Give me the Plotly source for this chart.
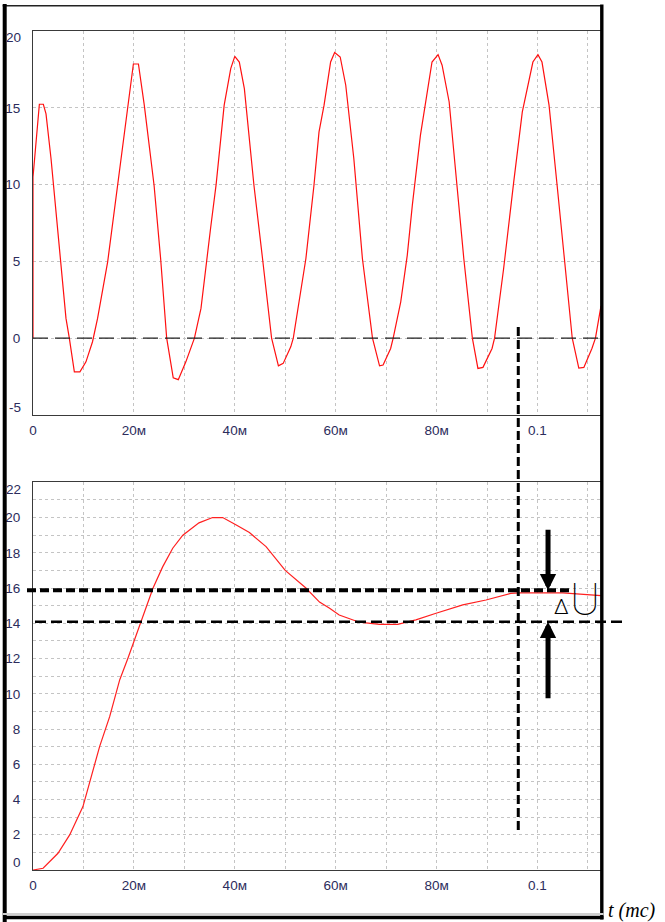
import numpy as np
import plotly.graph_objects as go

# ---------------- data (time in ms) ----------------
top_t_ms = [0, 0, 0.27, 1.26, 2.05, 2.58, 3.57, 4.56, 5.55, 6.54, 7.2, 8.2, 9.3, 10.5, 11.8, 12.8,
            14.8, 16.8, 18.75, 19.9, 20.9, 22.06, 24.0, 25.3, 26.5, 27.8, 28.8, 30.3, 32.0, 33.3,
            35.2, 36.3, 37.9, 39.2, 40.0, 40.9, 41.9, 43.8, 45.5, 47.3, 48.65, 49.6, 51.1, 51.6,
            54.1, 55.7, 56.7, 57.7, 59.0, 59.8, 60.9, 62.0, 63.6, 65.3, 67.3, 68.7, 69.4, 70.9,
            71.4, 72.9, 74.2, 75.2, 76.8, 79.1, 80.3, 81.1, 82.5, 84.1, 85.4, 87.1, 88.2, 89.2,
            91.0, 91.5, 93.3, 95.3, 97.0, 99.1, 100.1, 100.9, 102.3, 103.9, 105.3, 106.9, 108.2,
            109.2, 110.8, 111.5, 112.6]
top_v = [0, 10.5, 11.5, 15.23, 15.23, 14.6, 11.7, 8.22, 4.97, 1.29, 0, -2.19, -2.19, -1.54, -0.23, 1.29,
         4.97, 9.96, 15.17, 17.85, 17.85, 15.17, 9.96, 5.19, 0, -2.58, -2.7, -1.54, 0, 1.94,
         7.14, 10.0, 15.17, 17.55, 18.35, 17.98, 16.25, 9.96, 5.19, 0, -1.8, -1.64, -0.56, 0,
         5.19, 9.96, 13.43, 15.17, 17.98, 18.6, 18.31, 16.47, 11.7, 5.19, 0, -1.8, -1.75, -0.67,
         0, 2.37, 5.41, 8.66, 13.2, 17.98, 18.46, 17.77, 15.38, 9.96, 5.19, 0, -1.97, -1.9,
         -0.67, 0, 4.54, 10.18, 14.73, 17.98, 18.46, 17.98, 15.17, 9.96, 5.19, 0, -1.95,
         -1.9, -0.67, 0, 2.1]

bot_t_ms = [0, 2.0, 4.95, 7.27, 9.9, 11.2, 13.2, 15.2, 17.2, 18.8, 21.5, 23.8, 25.7, 27.7, 29.7,
            32.9, 35.6, 37.6, 40.3, 42.9, 46.2, 50.0, 54.1, 56.8, 58.8, 60.7, 64.7, 68.7, 72.3,
            75.9, 79.9, 85.2, 89.8, 94.7, 96.4, 105.0, 112.6]
bot_v = [0, 0.1, 0.95, 1.99, 3.6, 4.92, 7.0, 8.7, 10.8, 12.0, 14.1, 16.0, 17.2, 18.26, 19.0,
         19.7, 20.0, 20.0, 19.58, 19.15, 18.35, 17.0, 16.0, 15.2, 14.85, 14.47, 14.06, 13.94, 13.94,
         14.19, 14.57, 15.04, 15.32, 15.70, 15.73, 15.73, 15.57]

x_tick_vals = [0, 0.01, 0.02, 0.03, 0.04, 0.05, 0.06, 0.07, 0.08, 0.09, 0.10, 0.11]
x_tick_text = ['0', '', '20м', '', '40м', '', '60м', '', '80м', '', '0.1', '']
x_max = 0.1126

top_y_vals = [-5, 0, 5, 10, 15, 20]
top_y_text = ['', '0', '5', '10', '15', '']
top_y_edges = [(-5, '-5', 8), (20, '20', -6)]

bot_y_vals = list(range(0, 23))
bot_y_text = [str(v) if (v % 2 == 0 and 0 < v < 22) else '' for v in bot_y_vals]
bot_y_edges = [(0, '0', 8), (22, '22', -7)]

level_hi = 15.88      # upper dashed reference level
level_lo = 14.08      # lower dashed reference level
cursor_t = 0.0962     # vertical cursor time
arrow_t = 0.1021      # time of the ΔU arrows
delta_label = ('Δ', 0.1047, 14.9)
u_label = ('U', 0.1094, 15.35)
axis_title = 't (mc)'

# ---------------- geometry helpers ----------------
W, H = 665, 922
ML, MR, MT, MB = 33, 64, 31, 52
PW, PH = W - ML - MR, H - MT - MB


def px_x(p):
    return (p - ML) / PW


def px_y(p):
    return (H - MB - p) / PH


tick_font = dict(family='Liberation Sans, Arial, sans-serif', size=13.5, color='#2c2c5c')
grid = dict(showgrid=True, gridcolor='#c4c4c4', griddash='3px,3px', gridwidth=1,
            showline=True, linecolor='#3a3a3a', linewidth=1, mirror=True,
            zeroline=False, ticks='', tickfont=tick_font, automargin=False)

fig = go.Figure()
fig.add_trace(go.Scatter(x=np.array(top_t_ms) / 1000, y=top_v, mode='lines',
                         line=dict(color='#ff1010', width=1.2), xaxis='x', yaxis='y',
                         showlegend=False, hoverinfo='skip'))
fig.add_trace(go.Scatter(x=np.array(bot_t_ms) / 1000, y=bot_v, mode='lines',
                         line=dict(color='#ff2020', width=1.2), xaxis='x2', yaxis='y2',
                         showlegend=False, hoverinfo='skip'))

fig.update_layout(
    width=W, height=H,
    margin=dict(l=ML, r=MR, t=MT, b=MB, autoexpand=False),
    paper_bgcolor='white', plot_bgcolor='white',
    showlegend=False,
    xaxis=dict(domain=[0, 1], anchor='y', range=[0, x_max], tickvals=x_tick_vals,
               ticktext=x_tick_text, ticklabelstandoff=3, **grid),
    yaxis=dict(domain=[px_y(415), 1], anchor='x', range=[-5, 20], tickvals=top_y_vals,
               ticktext=top_y_text, ticklabelstandoff=9, **grid),
    xaxis2=dict(domain=[0, 1], anchor='y2', range=[0, x_max], tickvals=x_tick_vals,
                ticktext=x_tick_text, ticklabelstandoff=3, **grid),
    yaxis2=dict(domain=[0, px_y(482.3)], anchor='x2', range=[0, 22], tickvals=bot_y_vals,
                ticktext=bot_y_text, ticklabelstandoff=9, **grid),
)

shapes = []
# zero line of the upper panel
shapes.append(dict(type='line', xref='x domain', x0=0, x1=1, yref='y', y0=0, y1=0,
                   line=dict(color='#202020', width=1.2, dash='15px,7px')))
# reference levels in the lower panel
shapes.append(dict(type='line', xref='paper', x0=px_x(27), x1=px_x(570), yref='y2',
                   y0=level_hi, y1=level_hi, line=dict(color='black', width=4, dash='9px,4px')))
shapes.append(dict(type='line', xref='paper', x0=px_x(35), x1=px_x(625), yref='y2',
                   y0=level_lo, y1=level_lo, line=dict(color='black', width=2.5, dash='11px,5px')))
# vertical cursor
shapes.append(dict(type='line', xref='x2', x0=cursor_t, x1=cursor_t, yref='paper',
                   y0=px_y(830), y1=px_y(326), line=dict(color='black', width=3, dash='9px,4px')))
# outer frame
shapes.append(dict(type='line', xref='paper', yref='paper', x0=px_x(2.7), x1=px_x(603),
                   y0=px_y(5.7), y1=px_y(5.7), line=dict(color='#222', width=1.5)))
shapes.append(dict(type='line', xref='paper', yref='paper', x0=px_x(4.7), x1=px_x(4.7),
                   y0=px_y(4), y1=px_y(922), line=dict(color='black', width=4)))
shapes.append(dict(type='line', xref='paper', yref='paper', x0=px_x(601.8), x1=px_x(601.8),
                   y0=px_y(4.5), y1=px_y(919.5), line=dict(color='black', width=3.4)))
shapes.append(dict(type='line', xref='paper', yref='paper', x0=px_x(3), x1=px_x(603.5),
                   y0=px_y(914), y1=px_y(914), line=dict(color='#d0d0d0', width=2)))
shapes.append(dict(type='line', xref='paper', yref='paper', x0=px_x(3), x1=px_x(603.5),
                   y0=px_y(917.5), y1=px_y(917.5), line=dict(color='black', width=3.4)))
fig.update_layout(shapes=shapes)

ann = []
# edge tick labels (drawn inside like the original software)
for val, txt, shift in top_y_edges:
    ann.append(dict(xref='paper', x=px_x(23), xanchor='right', yref='y', y=val, yanchor='middle',
                    yshift=shift, text=txt, showarrow=False, font=tick_font))
for val, txt, shift in bot_y_edges:
    ann.append(dict(xref='paper', x=px_x(23), xanchor='right', yref='y2', y=val, yanchor='middle',
                    yshift=shift, text=txt, showarrow=False, font=tick_font))
# arrows
ann.append(dict(xref='x2', yref='y2', x=arrow_t, y=level_hi, ax=0, ay=-62, axref='pixel',
                ayref='pixel', text='', showarrow=True, arrowhead=2, arrowsize=0.65,
                arrowwidth=5, arrowcolor='black', standoff=0))
ann.append(dict(xref='x2', yref='y2', x=arrow_t, y=level_lo, ax=0, ay=78, axref='pixel',
                ayref='pixel', text='', showarrow=True, arrowhead=2, arrowsize=0.65,
                arrowwidth=5, arrowcolor='black', standoff=0))
ann.append(dict(xref='x2', yref='y2', x=delta_label[1], y=delta_label[2], text=delta_label[0],
                showarrow=False, font=dict(family='Roboto, Liberation Sans, Arial', size=21,
                                           weight=300, color='black')))
ann.append(dict(xref='x2', yref='y2', x=u_label[1], y=u_label[2], text=u_label[0],
                showarrow=False, font=dict(family='Roboto, Inter, sans-serif', size=45,
                                           weight=100, color='black')))
ann.append(dict(xref='paper', yref='paper', x=px_x(606), y=px_y(910), xanchor='left', yanchor='middle',
                text='<i>' + axis_title + '</i>', showarrow=False,
                font=dict(family='Liberation Serif, Times New Roman, serif', size=20, color='black')))
fig.update_layout(annotations=ann)

fig.write_html('out.html', config={'displayModeBar': False})
